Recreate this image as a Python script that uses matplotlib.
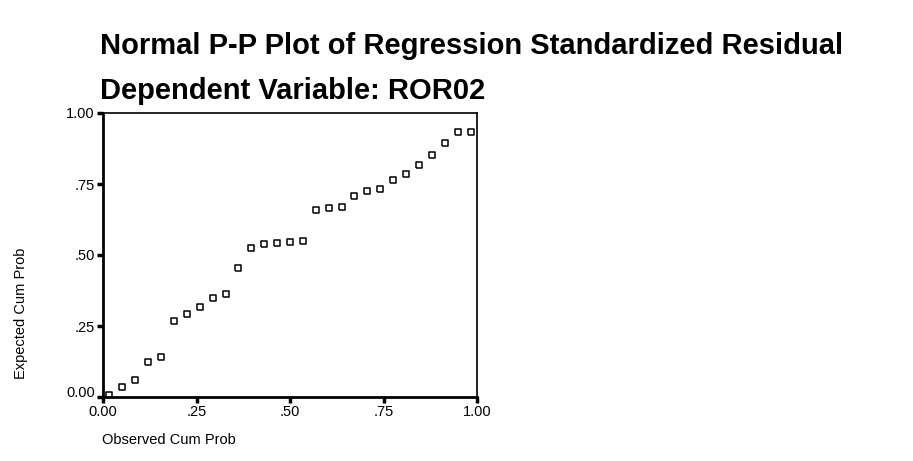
import matplotlib
matplotlib.use("Agg")
import matplotlib.pyplot as plt
import matplotlib.transforms as mtransforms

# Data
observed_cum_prob = [0.017, 0.052, 0.086, 0.121, 0.155, 0.190, 0.224, 0.259, 0.293, 0.328,
                     0.362, 0.397, 0.431, 0.466, 0.500, 0.534, 0.569, 0.603, 0.638, 0.672,
                     0.707, 0.741, 0.776, 0.810, 0.845, 0.879, 0.914, 0.948, 0.983]
expected_cum_prob = [0.008, 0.036, 0.060, 0.124, 0.142, 0.269, 0.293, 0.318, 0.349, 0.364,
                     0.454, 0.523, 0.538, 0.542, 0.547, 0.549, 0.660, 0.664, 0.670, 0.709,
                     0.725, 0.732, 0.765, 0.785, 0.816, 0.852, 0.894, 0.933, 0.933]
tick_values = [0.0, 0.25, 0.5, 0.75, 1.0]
tick_labels = ["0.00", ".25", ".50", ".75", "1.00"]

title_text = "Normal P-P Plot of Regression Standardized Residual"
subtitle_text = "Dependent Variable: ROR02"
xlabel_text = "Observed Cum Prob"
ylabel_text = "Expected Cum Prob"

plt.rcParams['font.family'] = ['Liberation Sans', 'DejaVu Sans']

fig = plt.figure(figsize=(9.13, 4.61), dpi=100)
W, H = 913, 461
left, right, top, bottom = 103, 477, 113, 397
ax = fig.add_axes([left / W, 1 - bottom / H, (right - left) / W, (bottom - top) / H])

# slightly wide open square marker, as in the scanned SPSS chart
rect_marker = [(-1.15, -1.0), (1.15, -1.0), (1.15, 1.0), (-1.15, 1.0), (-1.15, -1.0)]
ax.plot(observed_cum_prob, expected_cum_prob, linestyle='none', marker=rect_marker,
        markersize=5.0, markerfacecolor='white', markeredgecolor='black',
        markeredgewidth=1.1)

ax.set_xlim(0, 1)
ax.set_ylim(0, 1)
ax.set_xticks(tick_values)
ax.set_xticklabels(tick_labels)
ax.set_yticks(tick_values)
ax.set_yticklabels(tick_labels)

for side in ['left', 'bottom']:
    ax.spines[side].set_linewidth(2.0)
for side in ['top', 'right']:
    ax.spines[side].set_linewidth(1.2)

ax.tick_params(axis='both', direction='out', length=4, width=2.5, color='black',
               labelsize=10.5, pad=2)

# SPSS-style slight raise of the 0.00 label on the y axis
ylabels = ax.get_yticklabels()
offset = mtransforms.ScaledTranslation(0, 6 / 100, fig.dpi_scale_trans)
ylabels[0].set_transform(ylabels[0].get_transform() + offset)

fig.text(100 / W, 1 - 46 / H, title_text, fontsize=21, fontweight='bold',
         ha='left', va='center')
fig.text(100 / W, 1 - 91 / H, subtitle_text, fontsize=21, fontweight='bold',
         ha='left', va='center')
fig.text(21 / W, 1 - 313 / H, ylabel_text, fontsize=10.5, rotation=90,
         ha='center', va='center')
fig.text(102 / W, 1 - 440 / H, xlabel_text, fontsize=10.5,
         ha='left', va='center')

fig.savefig("out.png", dpi=100)
